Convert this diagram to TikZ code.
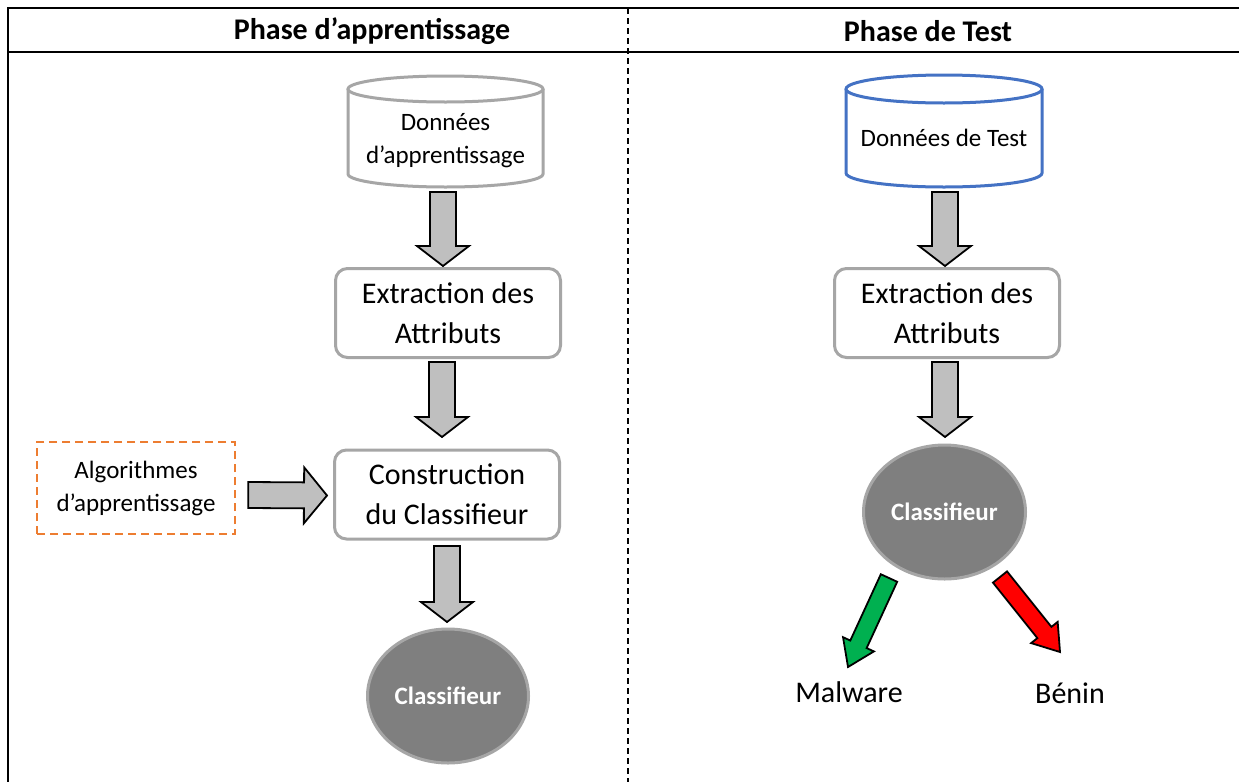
\documentclass[tikz,border=0pt]{standalone}
\usepackage{fontspec}
\setmainfont{Carlito}
\usetikzlibrary{calc,shapes.geometric}

\definecolor{boxgray}{HTML}{A6A6A6}
\definecolor{ellfill}{HTML}{7F7F7F}
\definecolor{arrfill}{HTML}{BFBFBF}
\definecolor{cylblue}{HTML}{4472C4}
\definecolor{algoorange}{HTML}{ED7D31}
\definecolor{okgreen}{HTML}{00B050}
\definecolor{badred}{HTML}{FF0000}

\tikzset{
  frameline/.style={line width=2pt, black},
  sepline/.style={line width=1.6pt, black, dash pattern=on 6pt off 4pt},
  header/.style={font=\bfseries\fontsize{30}{34}\selectfont},
  stepbox/.style={draw=boxgray, line width=3pt, rounded corners=12pt, fill=white,
    minimum width=225pt, minimum height=89pt, align=center, inner sep=0pt,
    font=\fontsize{30}{40}\selectfont},
  classnode/.style={ellipse, draw=boxgray, line width=3pt, fill=ellfill, text=white,
    inner sep=0pt, font=\bfseries\fontsize{25}{28}\selectfont},
  cyltext/.style={align=center, font=\fontsize{25}{33}\selectfont},
  cylgray/.style={draw=boxgray, line width=3pt, fill=white},
  cylblueline/.style={draw=cylblue, line width=3pt, fill=white},
  algobox/.style={draw=algoorange, line width=2.5pt, dash pattern=on 8pt off 5pt,
    minimum width=198pt, minimum height=92pt, align=center, inner sep=0pt,
    font=\fontsize{25}{33}\selectfont},
  blockarr/.style={draw=black, line width=1.8pt, fill=arrfill, line join=miter},
  greenarr/.style={draw=black, line width=1.8pt, fill=okgreen, line join=miter},
  redarr/.style={draw=black, line width=1.8pt, fill=badred, line join=miter},
  outcome/.style={font=\fontsize{30}{34}\selectfont},
}

% block arrow: style, start, tip, shaft half width, head half width, head length
\newcommand\blockarrow[6]{%
  \coordinate (ba-h) at ($(#3)!#6!(#2)$);
  \draw[#1] ($(#2)!#4!90:(#3)$) -- ($(ba-h)!#4!90:(#3)$) -- ($(ba-h)!#5!90:(#3)$)
    -- (#3) -- ($(ba-h)!#5!-90:(#3)$) -- ($(ba-h)!#4!-90:(#3)$)
    -- ($(#2)!#4!-90:(#3)$) -- cycle;
}

\begin{document}
\begin{tikzpicture}[x=1pt, y=-1pt]
  \useasboundingbox (0,0) rectangle (1239,782);
  \fill[white] (0,0) rectangle (1239,782);

  % frame and header
  \draw[frameline] (1239,8) -- (8,8) -- (8,782);
  \draw[frameline] (8,52) -- (1239,52);
  \draw[sepline] (628,8) -- (628,782);
  \node[header] (h1) at (372,31) {Phase d’apprentissage};
  \node[header] (h2) at (928,31) {Phase de Test};

  % ---------- training phase ----------
  \draw[cylgray] (348,89) -- (348,174) arc[start angle=180, end angle=0, x radius=97.5, y radius=13] -- (543,89);
  \draw[cylgray] (445.5,89) ellipse[x radius=97.5, y radius=13];
  \node[cyltext] (dtrain) at (445.5,141) {Données\\d’apprentissage};
  \coordinate (dtrainbase) at (443,187);

  \node[stepbox] (ex1) at (448,313) {Extraction des\\Attributs};
  \node[stepbox] (cons) at (447,494.5) {Construction\\du Classifieur};
  \node[classnode, minimum width=161pt, minimum height=134pt] (cl1) at (448,696) {Classifieur};
  \node[algobox] (algo) at (136,488) {Algorithmes\\d’apprentissage};

  \coordinate (a1s) at (443,192);
  \coordinate (a1e) at (443,266);
  \blockarrow{blockarr}{a1s}{a1e}{13pt}{26pt}{20pt}
  \coordinate (a2s) at (442,362);
  \coordinate (a2e) at (442,437);
  \blockarrow{blockarr}{a2s}{a2e}{13pt}{26pt}{20pt}
  \coordinate (a3s) at (447,546);
  \coordinate (a3e) at (447,622);
  \blockarrow{blockarr}{a3s}{a3e}{13pt}{26pt}{20pt}
  \coordinate (a4s) at ($(algo.east)+(12,7)$);
  \coordinate (a4e) at ($(cons.west)+(-6,1)$);
  \blockarrow{blockarr}{a4s}{a4e}{13pt}{28pt}{23pt}

  % ---------- test phase ----------
  \draw[cylblueline] (846,89) -- (846,173) arc[start angle=180, end angle=0, x radius=98, y radius=14] -- (1042,89);
  \draw[cylblueline] (944,89) ellipse[x radius=98, y radius=14];
  \node[cyltext] (dtest) at (944,138) {Données de Test};

  \node[stepbox] (ex2) at (947,313) {Extraction des\\Attributs};
  \node[classnode, minimum width=162pt, minimum height=134pt] (cl2) at (944.5,512) {Classifieur};
  \node[outcome] (mal) at (849,692) {Malware};
  \node[outcome] (ben) at (1070,693) {Bénin};

  \coordinate (b1s) at (945,192);
  \coordinate (b1e) at (945,266);
  \blockarrow{blockarr}{b1s}{b1e}{13pt}{26pt}{20pt}
  \coordinate (b2s) at (945,362);
  \coordinate (b2e) at (945,437);
  \blockarrow{blockarr}{b2s}{b2e}{13pt}{26pt}{20pt}

  \coordinate (gs) at (889,578);
  \coordinate (ge) at (848,667);
  \blockarrow{greenarr}{gs}{ge}{9pt}{17pt}{25pt}
  \coordinate (rs) at (1000,577);
  \coordinate (re) at (1060,652);
  \blockarrow{redarr}{rs}{re}{9pt}{17pt}{25pt}
\end{tikzpicture}
\end{document}
